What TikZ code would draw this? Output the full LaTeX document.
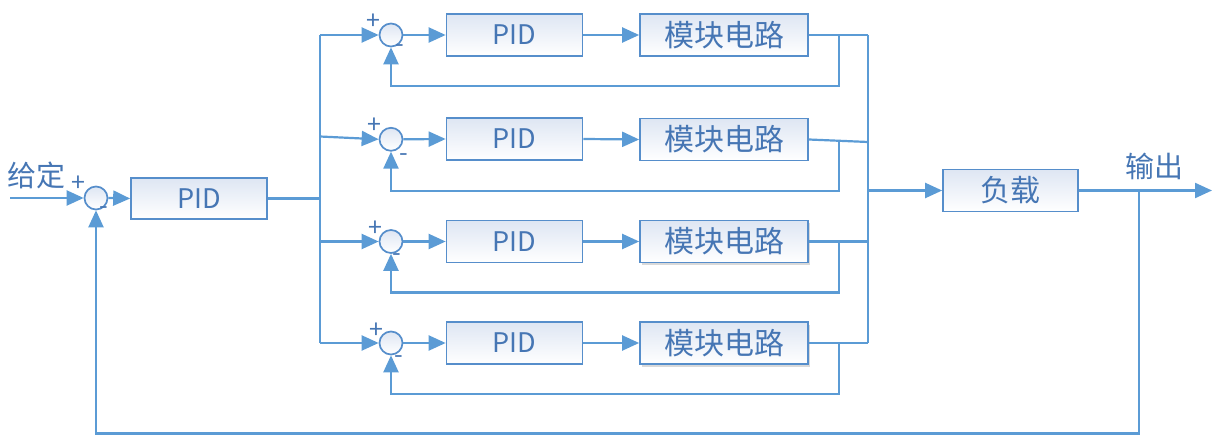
\documentclass[tikz,border=0pt]{standalone}
\usepackage{fontspec}
\setmainfont{Noto Sans CJK SC}
\usetikzlibrary{arrows.meta,shadows}
\definecolor{lc}{RGB}{91,155,213}
\definecolor{bc}{RGB}{86,142,203}
\definecolor{tc}{RGB}{70,118,180}
\definecolor{topc}{RGB}{222,230,243}
\begin{document}
\begin{tikzpicture}[x=1pt,y=-1pt,
 wire/.style={draw=lc,line width=2.2pt},
 arr/.style={wire,-{Triangle[length=17pt,width=15pt]}},
 blk/.style={draw=bc,line width=1.7pt,top color=topc,bottom color=white,inner sep=0pt,minimum height=42pt,text=tc,font=\fontsize{27}{29}\selectfont},
 pidbox/.style={blk,minimum width=136pt},
 modbox/.style={blk,minimum width=168pt,font=\fontsize{30}{32}\selectfont},
 shad/.style={drop shadow={shadow xshift=2pt,shadow yshift=-3pt,opacity=0.3,fill=gray}},
 sumc/.style={circle,draw=bc,line width=1.7pt,top color=topc,bottom color=white,minimum size=23pt,inner sep=0pt},
 sgn/.style={text=tc,font=\fontsize{25}{25}\selectfont,inner sep=0pt},
 lbl/.style={text=tc,font=\fontsize{29}{31}\selectfont,inner sep=0pt}]
\useasboundingbox (0,0) rectangle (1213,435);

% main loop
\node[lbl] (gd) at (37,175) {给定};
\coordinate (in0) at (10,198);
\node[sumc] (s0) at (96,198) {};
\node[sgn] (p0) at (78,184) {+};
\node[sgn] (m0) at (104,211) {-};
\node[pidbox,minimum height=41pt] (pid0) at (199,198.5) {PID};
\draw[arr] (in0) -- (s0.west);
\draw[arr] (s0.east) -- (pid0.west);
\coordinate (bj) at (320,198.5);
\draw[wire] (pid0.east) -- (bj);

% bus
\coordinate (b1) at (320,35);
\coordinate (b2) at (320,136.5);
\coordinate (b3) at (320,241.5);
\coordinate (b4) at (320,343);
\draw[wire] (b1) -- (b4);

% rows
\node[sumc] (s1) at (391,35) {};
\node[sumc] (s2) at (391,139.3) {};
\node[sumc] (s3) at (391,241.5) {};
\node[sumc] (s4) at (391,343) {};
\node[sgn] at (373,22) {+};  \node[sgn] at (400,49) {-};
\node[sgn] at (374,126) {+}; \node[sgn] at (404,158) {-};
\node[sgn] at (375,229) {+}; \node[sgn] at (397,258) {-};
\node[sgn] at (376,331) {+}; \node[sgn] at (399,360) {-};

\node[pidbox] (pid1) at (514.5,35) {PID};
\node[pidbox] (pid2) at (514.5,139) {PID};
\node[pidbox] (pid3) at (514.5,241.5) {PID};
\node[pidbox] (pid4) at (514.5,343) {PID};

\node[modbox] (m1) at (724,35) {模块电路};
\node[modbox] (m2) at (724,139.5) {模块电路};
\node[modbox,shad] (m3) at (724,241.5) {模块电路};
\node[modbox,shad] (m4) at (724,343) {模块电路};

\foreach \i in {1,2,3,4}{
  \draw[arr] (b\i) -- (s\i.west);
  \draw[arr] (s\i.east) -- (pid\i.west);
  \draw[arr] (pid\i.east) -- (m\i.west);
}
\draw[arr] (m1.east) -- ++(30,0) -- ++(0,51) -| (s1.south);
\draw[arr] (m2.east) ++(30,0.3) -- ++(0,51.2) -| (s2.south);
\draw[arr] (m3.east) -- ++(30,0) -- ++(0,51) -| (s3.south);
\draw[arr] (m4.east) -- ++(30,0) -- ++(0,51) -| (s4.south);

% collector
\coordinate (o1) at (868,35);
\coordinate (o2) at (868,142);
\coordinate (o3) at (868,241.5);
\coordinate (o4) at (868,343);
\draw[wire] (m1.east) -- (o1);
\draw[wire] (m2.east) -- (o2);
\draw[wire] (m3.east) -- (o3);
\draw[wire] (m4.east) -- (o4);
\draw[wire] (o1) -- (o4);

\node[pidbox,font=\fontsize{30}{32}\selectfont,minimum width=135pt] (load) at (1010.5,190.5) {负载};
\coordinate (oj) at (868,190.5);
\draw[arr] (oj) -- (load.west);

\coordinate (out) at (1212,190.5);
\draw[arr] (load.east) -- (out);
\node[lbl] (sc) at (1154,166) {输出};
\coordinate (fbj) at (1139,190.5);
\draw[arr] (fbj) -- (1139,433.5) -| (s0.south);
\end{tikzpicture}
\end{document}
